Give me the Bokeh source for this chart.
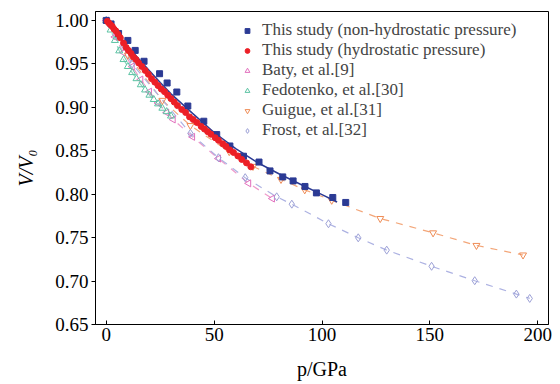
import math
from bokeh.plotting import figure
from bokeh.models import (Range1d, FixedTicker, PrintfTickFormatter, Legend, LegendItem)
from bokeh.embed import file_html
from bokeh.resources import INLINE

# ---------------- data ----------------
nh_p = [0.0, 2.2, 5.7, 10.0, 13.4, 17.5, 24.7, 28.2, 32.7, 37.8, 45.2, 51.2, 57.3, 63.6,
        70.8, 75.9, 81.8, 86.6, 92.1, 97.4, 105.0, 111.0]
nh_v = [1.000, 0.996, 0.985, 0.977, 0.9655, 0.953, 0.9387, 0.928, 0.9176, 0.9015, 0.884,
        0.8686, 0.8555, 0.8437, 0.837, 0.8268, 0.8199, 0.8153, 0.8089, 0.8015, 0.7962, 0.7905]
nh_fit_p = [0, 5, 10, 15, 20, 25, 30, 40, 50, 60, 70, 80, 90, 100, 107]
nh_fit_v = [1.000, 0.9845, 0.970, 0.956, 0.942, 0.9285, 0.9155, 0.893, 0.871, 0.8525,
            0.8365, 0.8235, 0.8115, 0.7995, 0.791]

h_p = [0.5, 1.2, 2.0, 2.8, 3.6, 4.4, 5.5, 6.5, 8.0, 9.2, 10.3, 11.5, 12.6, 13.8, 15.0, 16.5,
       18.0, 19.5, 21.0, 22.5, 24.0, 25.5, 27.0, 28.5, 30.0, 31.5, 33.0, 35.0, 36.8, 38.6,
       40.3, 42.0, 44.0, 45.5, 47.0, 48.5, 50.5, 52.0, 54.0, 55.5, 57.2, 59.0, 61.0, 62.8,
       65.0, 67.0]
h_v = [0.999, 0.997, 0.995, 0.993, 0.990, 0.988, 0.984, 0.980, 0.974, 0.969, 0.9655, 0.962,
       0.958, 0.955, 0.951, 0.947, 0.9425, 0.938, 0.933, 0.929, 0.925, 0.921, 0.918, 0.914,
       0.910, 0.906, 0.902, 0.8975, 0.894, 0.889, 0.886, 0.8825, 0.878, 0.875, 0.872, 0.869,
       0.865, 0.862, 0.858, 0.855, 0.851, 0.848, 0.844, 0.840, 0.836, 0.8315]
h_fit_p = [0, 10, 20, 30, 40, 50, 60, 67]
h_fit_v = [1.000, 0.9685, 0.9375, 0.9095, 0.8855, 0.865, 0.846, 0.832]

baty_p = [0, 4, 8, 12, 16, 20, 24, 28, 31, 40, 52, 66, 77]
baty_v = [1.000, 0.981, 0.963, 0.947, 0.932, 0.918, 0.905, 0.894, 0.886, 0.866, 0.841,
          0.8125, 0.795]

fedo_p = [0, 2, 4, 6, 8, 10, 12, 14, 16, 18, 20, 22, 24, 26, 28, 30]
fedo_v = [1.000, 0.989, 0.977, 0.965, 0.955, 0.947, 0.940, 0.933, 0.926, 0.920, 0.914,
          0.909, 0.904, 0.899, 0.895, 0.890]

guig_p = [0, 10, 26, 39, 57, 68, 81, 92, 104.5, 127, 151.5, 171.6, 193.2]
guig_v = [1.000, 0.960, 0.908, 0.879, 0.849, 0.832, 0.817, 0.805, 0.793, 0.772, 0.7555,
          0.741, 0.730]

frost_p = [0, 12, 39, 52, 64.4, 79, 86, 103, 116.8, 130, 150.8, 170.8, 190.1, 196.3]
frost_v = [1.000, 0.950, 0.870, 0.842, 0.819, 0.797, 0.7885, 0.766, 0.7498, 0.7356, 0.717,
           0.7004, 0.685, 0.680]

x_ticks = [0, 50, 100, 150, 200]
y_ticks = [0.65, 0.70, 0.75, 0.80, 0.85, 0.90, 0.95, 1.00]

labels = ["This study (non-hydrostatic pressure)", "This study (hydrostatic pressure)",
          "Baty, et al.[9]", "Fedotenko, et al.[30]", "Guigue, et al.[31]", "Frost, et al.[32]"]
x_title = "p/GPa"
y_title = "V/V\u2080"

# ---------------- styles ----------------
NAVY = "#2b3a94"
RED = "#ec1f26"
PINK = "#e26fbd"
TEAL = "#5bc3a3"
ORANGE = "#ef8c55"
LAV = "#9ca0d6"
FONT = "Liberation Serif"

p = figure(width=560, height=384, output_backend="svg", toolbar_location=None,
           x_range=Range1d(-5, 205), y_range=Range1d(0.65, 1.0103),
           min_border_left=95, min_border_right=12, min_border_top=11, min_border_bottom=60)
p.grid.visible = False
p.outline_line_color = "black"
p.outline_line_width = 1
p.background_fill_color = "white"

p.xaxis.ticker = FixedTicker(ticks=x_ticks)
p.yaxis.ticker = FixedTicker(ticks=y_ticks)
p.yaxis.formatter = PrintfTickFormatter(format="%.2f")
for ax in (p.xaxis, p.yaxis):
    ax.major_label_text_font = FONT
    ax.major_label_text_font_size = "19px"
    ax.major_label_text_color = "black"
    ax.axis_line_color = "black"
    ax.major_tick_line_color = "black"
    ax.minor_tick_line_color = None
    ax.axis_label_text_font = FONT
    ax.axis_label_text_font_size = "20px"
    ax.axis_label_text_color = "black"
p.xaxis.major_tick_in = 4
p.xaxis.major_tick_out = 0
p.xaxis.major_label_standoff = 3
p.yaxis.major_tick_in = 0
p.yaxis.major_tick_out = 4
p.yaxis.major_label_standoff = 3

p.xaxis.axis_label = x_title
p.xaxis.axis_label_text_font_style = "normal"
p.xaxis.axis_label_standoff = 14
p.yaxis.axis_label = y_title
p.yaxis.axis_label_text_font_style = "italic"
p.yaxis.axis_label_standoff = 15

dash = "7 7"
# dashed literature curves
p.line(baty_p, baty_v, line_color="#ef9acb", line_width=1.2, line_dash=dash)
p.line(fedo_p, fedo_v, line_color="#8fd6c0", line_width=1.2, line_dash=dash)
p.line(guig_p, guig_v, line_color="#f3a679", line_width=1.2, line_dash=dash)
p.line(frost_p, frost_v, line_color="#adb2e2", line_width=1.2, line_dash=dash)

r_baty = p.scatter(baty_p, baty_v, marker="triangle", angle=math.pi / 2, size=7,
                   fill_color=None, line_color=PINK, line_width=1)
r_fedo = p.scatter(fedo_p, fedo_v, marker="triangle", size=7,
                   fill_color=None, line_color=TEAL, line_width=1)
r_guig = p.scatter(guig_p, guig_v, marker="inverted_triangle", size=7,
                   fill_color=None, line_color=ORANGE, line_width=1)
r_frost = p.scatter(frost_p, frost_v, marker="diamond", size=8,
                    fill_color=None, line_color=LAV, line_width=1)

p.line(nh_fit_p, nh_fit_v, line_color=NAVY, line_width=1.5)
r_nh = p.scatter(nh_p, nh_v, marker="square", size=6, fill_color=NAVY, line_color=NAVY)
p.line(h_fit_p, h_fit_v, line_color=RED, line_width=1.8)
r_h = p.scatter(h_p, h_v, marker="circle", size=6, fill_color=RED, line_color=RED)

legend = Legend(items=[LegendItem(label=l, renderers=[r]) for l, r in
                       zip(labels, [r_nh, r_h, r_baty, r_fedo, r_guig, r_frost])],
                location=(146, 184), padding=0, margin=0, spacing=0,
                glyph_width=12, glyph_height=19, label_height=19, label_standoff=9,
                label_text_font=FONT, label_text_font_size="17px",
                border_line_color=None, background_fill_alpha=0)
p.add_layout(legend)

open("out.html", "w").write(file_html(p, INLINE))
